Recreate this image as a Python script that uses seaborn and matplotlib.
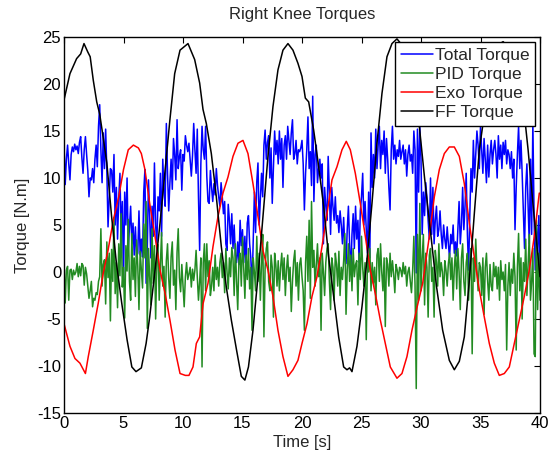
import numpy as np
import pandas as pd
import matplotlib
matplotlib.use("Agg")
import matplotlib.pyplot as plt
import seaborn as sns

# %% Data
# fast (noisy) series sampled every 0.1 s
time_fast = np.round(np.arange(0, 40.05, 0.1), 1)

total_torque = [
    13.7, 9.3, 12.0, 13.5, 11.5, 9.8, 12.5, 13.3, 12.8, 13.6,
    13.0, 13.4, 12.6, 13.8, 14.4, 12.2, 10.5, 13.0, 14.4, 12.5,
    10.8, 8.0, 10.0, 9.8, 11.0, 9.5, 12.0, 13.5, 11.2, 15.5,
    17.8, 13.0, 9.5, 14.8, 11.0, 15.2, 10.8, 4.8, 8.0, 11.0,
    10.8, 8.5, 12.5, 5.0, 9.0, 3.5, 7.8, 10.5, 4.0, 7.5,
    -0.8, 8.5, 5.0, 10.0, 2.5, 4.8, 7.0, 3.0, 5.2, 1.8,
    4.8, 1.6, 2.0, 6.5, 1.8, 3.5, 1.6, 8.5, 10.9, -1.2,
    2.5, 9.8, 6.0, 1.5, 7.0, 3.8, 11.6, 5.0, 2.8, 8.0,
    6.5, 10.5, 3.8, 12.0, 8.5, 7.0, 15.8, 10.5, 6.5, 9.5,
    12.0, 8.8, 14.2, 12.5, 9.8, 16.2, 11.0, 12.3, 13.0, 8.7,
    12.5, 11.8, 14.5, 13.5, 12.8, 13.7, 12.0, 10.2, 12.4, 15.8,
    13.0, 10.5, 15.2, 8.0, 2.3, 11.5, 15.5, 13.0, 12.0, 15.5,
    10.2, 7.5, 7.3, 10.8, 9.0, 7.5, 9.4, 8.2, 11.0, 9.2,
    8.0, 7.0, 9.5, 8.0, 6.2, 7.5, 3.0, 2.3, 7.2, 5.5,
    3.0, 6.2, 2.5, 5.0, 1.8, 1.0, 3.2, 0.8, 5.5, 2.8,
    4.5, 1.0, 3.8, 0.6, 5.2, 6.0, 3.0, 1.5, -1.9, 3.5,
    8.5, 4.2, 9.6, 11.6, 5.0, 7.8, 10.5, 8.0, 13.5, 15.1,
    12.0, 13.8, 14.5, 10.0, 13.2, 7.3, 11.0, 15.0, 12.5, 14.0,
    11.5, 15.0, 12.0, 14.2, 9.0, 13.5, 14.5, 12.0, 15.5, 14.0,
    12.5, 14.8, 16.2, 12.0, 12.6, 14.0, 11.5, 13.0, 12.8, 13.2,
    14.0, 11.5, 6.6, 10.5, 13.0, 16.5, 11.0, 12.8, 9.2, 18.7,
    7.5, 12.5, 13.5, 9.5, 11.0, 12.0, 10.0, 11.5, 3.0, 9.0,
    7.0, 5.5, 12.3, 8.5, 4.0, 9.0, 7.0, 5.5, 8.0, 5.2,
    6.0, 4.2, 6.5, 5.0, 3.0, 5.8, 2.5, 0.9, 4.5, 7.0,
    3.0, -0.2, 4.0, 6.2, 2.5, 7.0, 3.5, 5.5, 1.0, 6.5,
    8.0, 10.5, 5.0, 7.5, 4.5, 2.0, 8.5, 1.5, 14.8, 9.0,
    12.5, 10.0, 15.2, 11.0, 13.5, 15.5, 11.0, 14.0, 12.5, 15.0,
    10.5, 14.2, 12.0, 9.0, 6.6, 13.0, 15.5, 12.0, 13.5, 11.5,
    13.0, 12.3, 14.0, 12.0, 12.8, 13.5, 11.5, 13.0, 10.2, 12.5,
    13.5, 11.8, 12.5, 10.5, 15.0, 13.0, -0.1, 15.2, 8.5, 15.5,
    12.0, 4.0, 8.5, 6.0, 9.5, 7.8, 5.5, 3.5, 10.0, 4.0,
    9.0, 3.0, 5.5, 7.0, 3.8, 4.5, 6.5, 4.0, 2.5, 5.0,
    3.5, 2.5, 4.8, 3.0, 1.5, 4.0, 3.0, 5.0, 2.0, 3.2,
    1.7, 4.5, 7.5, 3.0, 5.0, 9.0, 4.5, 7.0, 10.5, 4.0,
    0.2, 6.0, 11.0, 8.5, 14.0, 10.0, 12.5, 15.0, 13.5, 11.0,
    15.5, 13.0, 10.5, 14.2, 12.0, 9.5, 13.5, 10.1, 12.5, 14.0,
    11.5, 13.0, 14.0, 12.5, 10.0, 14.5, 12.0, 13.5, 11.0, 13.8,
    12.5, 14.0, 11.5, 13.0, 12.5, 11.0, 12.8, 10.0, 12.0, 4.5,
    9.0, 12.5, 15.5, 11.0, 14.0, 10.5, 6.5, 2.5, 9.0, 11.5,
    7.0, 3.0, 12.0, 4.0, 16.0, 6.0, 0.2, 5.0, 2.0, 6.0,
    0.5,
]

pid_torque = [
    1.0, -3.3, 0.2, 0.6, -3.0, 0.2, 0.3, -0.8, 0.2, -0.3,
    0.0, 0.9, -0.5, 0.6, -0.4, 0.9, 0.7, -1.4, 0.5, -0.2,
    -1.5, -2.8, -2.0, -1.0, -3.7, -2.8, -3.0, -2.2, -2.4, -1.0,
    -0.5, 4.6, -1.5, 0.8, 1.3, -3.4, 3.2, -0.6, 2.0, -5.2,
    2.4, -1.0, 5.8, -2.3, 1.0, -3.8, 3.0, -0.4, 6.2, -1.6,
    0.5, -4.9, 2.8, 0.1, 5.6, -1.0, -3.0, 4.1, -0.8, 1.5,
    -2.6, 3.4, 0.6, -4.0, 2.2, 0.2, -1.7, 5.1, 1.5, 7.5,
    -6.0, 2.5, -0.5, -3.5, 4.6, -1.2, 2.8, -5.0, 1.0, 2.9,
    -3.0, 0.8, 4.2, -1.5, 0.6, -4.8, 1.2, 3.0, -0.7, -2.8,
    1.6, 3.2, -1.4, 0.2, -4.0, 2.1, 4.6, -0.6, -2.1, 0.8,
    -1.5, -3.7, -0.5, 1.0, -0.8, -0.2, 0.5, -1.6, 0.3, -0.9,
    0.2, 2.3, -0.5, -3.0, -1.0, 1.5, -10.1, 1.0, 3.0, -2.0,
    3.0, -0.5, 1.2, -2.5, -1.5, 0.5, -2.0, 1.8, -0.8, 0.5,
    -1.5, 1.0, 2.0, -0.6, 1.0, -2.2, 2.5, 0.0, -1.8, 1.5,
    -0.5, 2.6, 1.5, -2.5, 3.0, -1.0, -4.0, 1.2, 2.0, -1.5,
    3.7, 0.5, -2.8, 1.8, -0.8, 2.5, -1.8, 0.5, -6.2, 1.5,
    0.0, -2.0, 3.8, -1.0, 2.0, -3.0, 1.0, 4.0, -6.9, 0.5,
    2.5, 3.2, -1.0, -2.0, 1.8, 0.5, -4.8, 2.0, 0.8, -1.5,
    1.2, -2.0, 0.5, 2.0, -0.8, 1.5, -2.5, 0.3, 1.8, -1.0,
    0.5, -4.2, -1.0, 1.2, 2.3, -1.5, 1.0, -3.0, 0.8, 1.5,
    -0.5, -2.0, -6.2, 1.0, 3.8, -1.0, 5.5, -2.8, 7.5, 0.5,
    2.3, -1.5, 0.8, 3.0, -0.5, 1.5, -6.2, 2.0, 0.0, -2.5,
    1.0, 2.5, 3.0, -1.0, -4.0, 1.5, 0.5, -3.0, 2.0, 0.8,
    -1.5, 2.2, -2.5, 0.5, -0.8, 1.2, 4.1, -4.5, 0.2, 3.0,
    -1.0, 1.8, -2.0, 2.5, -0.5, 0.8, 1.2, -3.5, 2.0, -0.8,
    3.8, 0.5, -1.5, 1.0, -7.2, 1.5, 0.0, 2.5, -2.0, 1.0,
    -1.2, 0.5, -3.5, 1.8, 2.5, -1.0, 3.0, 0.0, -2.0, 1.5,
    -5.8, 1.5, 0.8, -1.5, 2.0, -0.5, 1.2, -0.2, -2.2, 0.8,
    0.2, -0.8, 0.5, 0.2, -0.5, 1.0, -0.2, 0.6, -1.5, 0.0,
    0.5, -1.0, -2.2, 0.2, 3.8, -1.5, -12.4, 4.0, -3.0, 7.3,
    -2.0, 1.5, 4.0, -3.5, 2.0, 0.5, -4.8, 1.8, 2.5, -1.0,
    0.5, -4.8, 2.3, 1.0, -1.5, 3.0, -0.5, 1.0, 0.0, -2.5,
    1.2, 0.2, -1.5, 0.9, 2.0, -0.8, 1.5, -3.0, 0.5, 2.3,
    -1.8, 2.5, 0.0, -4.0, 1.5, 3.0, -1.0, -2.5, 1.0, 2.0,
    -3.0, 0.8, 2.5, -8.7, 1.5, -1.0, 3.5, 0.2, -2.0, 1.0,
    0.5, -2.5, 1.5, -4.5, 0.5, 2.0, -1.0, -3.0, 0.8, -1.5,
    -2.0, 1.0, -0.5, 0.6, -1.8, 0.5, -3.0, 1.2, -0.8, 0.0,
    -2.0, 0.8, -8.3, -1.5, 1.0, -2.5, 0.3, -1.2, 2.0, -0.5,
    -8.3, 0.5, 4.1, -2.0, 1.5, -5.0, 1.0, -1.0, 3.5, -2.5,
    0.8, 4.0, -3.0, -1.0, 2.5, -8.7, -9.0, 5.5, -4.0, 2.0,
    -3.0,
]

# smooth series, read at their own time points
exo_time = [0, 0.5, 0.92, 1.34, 1.8, 2.04, 2.46, 2.88, 3.3, 3.7, 4.14, 4.6, 5.0, 5.4,
            5.83, 6.25, 6.5, 6.8, 7.2, 7.65, 8.07, 8.5, 8.9, 9.33, 9.75, 10.2, 10.5,
            10.84, 11.12, 11.4, 11.68, 12.1, 12.52, 12.94, 13.36, 13.78, 14.2, 14.62,
            15.04, 15.46, 15.88, 16.3, 16.72, 17.14, 17.56, 17.98, 18.4, 18.82, 19.24,
            19.66, 20.0, 20.42, 20.84, 21.26, 21.68, 22.1, 22.52, 22.94, 23.36, 23.72,
            24.06, 24.48, 24.9, 25.32, 25.74, 26.16, 26.58, 27.0, 27.42, 27.98, 28.4,
            28.82, 29.24, 29.66, 30.14, 30.7, 31.12, 31.54, 31.96, 32.38, 32.8, 33.22,
            33.64, 34.06, 34.48, 34.9, 35.32, 35.74, 36.16, 36.58, 37.0, 37.42, 37.84,
            38.26, 38.68, 39.1, 39.52, 39.94]
exo_torque = [-5.5, -7.9, -9.2, -9.7, -10.8, -9.0, -6.2, -3.3, -0.1, 2.3, 5.5, 8.0, 10.9,
              13.0, 13.5, 13.2, 12.6, 10.9, 7.3, 3.8, 0.2, -2.3, -5.1, -8.3, -10.8, -11.0,
              -11.0, -10.1, -7.6, -6.9, -3.4, -1.2, 2.7, 5.9, 8.4, 10.1, 12.3, 13.7, 14.0,
              12.6, 9.4, 5.9, 2.3, 0.2, -2.6, -6.2, -9.0, -11.1, -10.4, -9.4, -7.6, -5.5,
              -2.6, -0.5, 2.7, 6.2, 9.8, 11.2, 13.0, 13.9, 13.0, 10.5, 7.3, 3.8, 0.2, -2.3,
              -5.1, -7.6, -10.1, -11.3, -10.8, -9.0, -6.2, -3.8, -1.2, 3.8, 8.0, 10.9,
              12.6, 13.3, 13.3, 12.3, 9.4, 5.2, 1.6, -1.9, -4.8, -7.6, -9.7, -11.0,
              -10.8, -10.1, -7.6, -5.1, -2.6, 0.2, 3.8, 8.4]

ff_time = [0, 0.5, 1.06, 1.4, 1.68, 2.0, 2.2, 2.46, 2.75, 3.0, 3.2, 3.6, 4.0, 4.4, 4.85,
           5.3, 5.7, 6.05, 6.5, 6.9, 7.2, 7.65, 8.07, 8.5, 8.9, 9.3, 9.75, 10.42, 10.98,
           11.4, 11.68, 11.96, 12.38, 12.8, 13.22, 13.64, 14.06, 14.5, 14.9, 15.2, 15.5,
           15.88, 16.3, 16.72, 17.14, 17.56, 17.98, 18.4, 18.82, 19.24, 19.66, 20.0,
           20.28, 20.56, 20.98, 21.4, 21.82, 22.24, 22.66, 23.08, 23.5, 23.78, 24.0,
           24.2, 24.62, 25.04, 25.46, 25.88, 26.3, 26.72, 27.14, 27.56, 27.98, 28.5,
           29.0, 29.4, 29.86, 30.3, 30.84, 31.3, 31.82, 32.38, 32.8, 33.22, 33.64,
           34.06, 34.48, 34.9, 35.18, 35.6, 36.0, 36.5, 36.9, 37.3, 37.7, 38.1, 38.5,
           39.0, 39.5, 40.0]
ff_torque = [18.3, 21.1, 22.7, 23.2, 24.3, 23.4, 22.9, 20.4, 18.1, 16.8, 15.1, 11.6, 5.9,
             1.0, -3.3, -7.2, -10.1, -10.6, -10.2, -7.6, -4.8, 0.2, 5.2, 10.9, 16.2, 21.1,
             23.6, 24.3, 22.6, 20.1, 17.3, 15.8, 12.6, 8.0, 2.7, -1.6, -5.1, -8.3, -11.1,
             -11.5, -10.1, -6.2, -0.5, 5.9, 12.3, 17.6, 21.5, 23.6, 24.3, 23.6, 22.2,
             20.8, 18.5, 18.1, 15.1, 11.2, 7.0, 1.6, -2.6, -6.9, -10.1, -10.4, -10.2,
             -10.6, -7.9, -3.7, 1.3, 7.3, 13.7, 19.0, 22.9, 24.3, 24.8, 24.0, 21.5, 19.0,
             15.5, 10.0, 3.8, -1.5, -6.2, -9.4, -10.4, -9.5, -6.9, -0.9, 6.2, 13.0, 15.5,
             20.0, 23.0, 24.2, 24.5, 24.0, 23.0, 21.5, 19.0, 13.0, 6.0, -0.5]

series_names = ["Total Torque", "PID Torque", "Exo Torque", "FF Torque"]
series_colors = ["#0000ff", "#228b22", "#ff0000", "#000000"]

df = pd.concat([
    pd.DataFrame({"time": time_fast, "torque": total_torque, "series": "Total Torque"}),
    pd.DataFrame({"time": time_fast, "torque": pid_torque, "series": "PID Torque"}),
    pd.DataFrame({"time": exo_time, "torque": exo_torque, "series": "Exo Torque"}),
    pd.DataFrame({"time": ff_time, "torque": ff_torque, "series": "FF Torque"}),
], ignore_index=True)

# %% Plot
sns.set_style("white")
plt.rcParams["font.family"] = ["Liberation Sans", "DejaVu Sans"]
plt.rcParams["axes.unicode_minus"] = False

fig = plt.figure(figsize=(5.53, 4.55), dpi=100)
ax = fig.add_axes([64 / 553, 42 / 455, 476 / 553, 376 / 455])

sns.lineplot(data=df, x="time", y="torque", hue="series", hue_order=series_names,
             palette=series_colors, estimator=None, sort=False, linewidth=1.1, ax=ax)

ax.set_xlim(0, 40)
ax.set_ylim(-15, 25)
ax.set_xticks(range(0, 41, 5))
ax.set_yticks(range(-15, 26, 5))
ax.tick_params(direction="in", top=True, right=True, length=4, width=0.8,
               labelsize=12, colors="black", pad=2)
for sp in ax.spines.values():
    sp.set_color("black")
    sp.set_linewidth(1.0)

ax.set_xlabel("Time [s]", fontsize=12, labelpad=3)
ax.set_ylabel("Torque [N.m]", fontsize=12, labelpad=5)
ax.set_title("Right Knee Torques", fontsize=12, pad=13)

handles, labels = ax.get_legend_handles_labels()
leg = ax.legend(handles, labels, loc="upper right", bbox_to_anchor=(0.99, 0.987),
                fontsize=12.5, frameon=True, fancybox=False, framealpha=1,
                edgecolor="black", handlelength=1.85, handletextpad=0.1,
                labelspacing=0.22, borderpad=0.35, borderaxespad=0)
leg.get_frame().set_linewidth(1.0)

fig.savefig("out.png", dpi=100)
